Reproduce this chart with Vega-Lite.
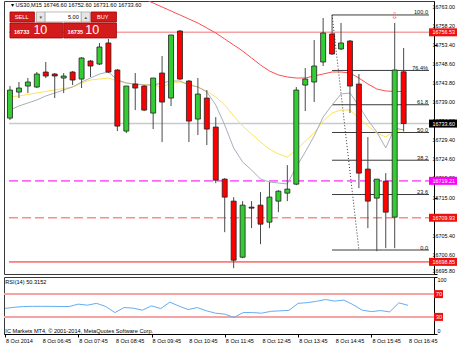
{
"$schema": "https://vega.github.io/schema/vega-lite/v6.json",
"padding": {"left": 2, "top": 0, "right": 0, "bottom": 0},
"autosize": {"type": "pad"},
"background": "white",
"spacing": 0,
"config": {
 "view": {"stroke": "#3a3a3a", "strokeWidth": 1},
 "axis": {"labelFont": "Liberation Sans", "labelFontSize": 5.5, "labelColor": "#000", "tickColor": "#000", "domainColor": "#000", "tickSize": 3, "labelPadding": 1, "grid": false}
},
"datasets": {
 "one": [{}],
 "candles": [
{"t":"2014-10-08T05:45:00Z","o":16734.98,"h":16743.03,"l":16734.48,"c":16742.02,"rsi":45.0,"fast":16737.01,"mid":16740.28,"slow":null},
{"t":"2014-10-08T06:00:00Z","o":16741.52,"h":16744.04,"l":16740.01,"c":16742.53,"rsi":46.8,"fast":16738.02,"mid":16740.53,"slow":null},
{"t":"2014-10-08T06:15:00Z","o":16743.03,"h":16745.04,"l":16741.27,"c":16744.04,"rsi":48.2,"fast":16738.77,"mid":16740.91,"slow":null},
{"t":"2014-10-08T06:30:00Z","o":16742.78,"h":16746.55,"l":16742.53,"c":16746.05,"rsi":48.5,"fast":16739.53,"mid":16741.28,"slow":null},
{"t":"2014-10-08T06:45:00Z","o":16746.55,"h":16749.07,"l":16745.04,"c":16745.55,"rsi":48.5,"fast":16740.53,"mid":16741.66,"slow":null},
{"t":"2014-10-08T07:00:00Z","o":16746.05,"h":16746.30,"l":16740.01,"c":16745.55,"rsi":48.5,"fast":16741.28,"mid":16742.04,"slow":null},
{"t":"2014-10-08T07:15:00Z","o":16745.04,"h":16746.30,"l":16741.27,"c":16745.55,"rsi":48.3,"fast":16742.04,"mid":16742.42,"slow":null},
{"t":"2014-10-08T07:30:00Z","o":16746.55,"h":16746.80,"l":16743.28,"c":16744.54,"rsi":48.2,"fast":16742.79,"mid":16742.79,"slow":null},
{"t":"2014-10-08T07:45:00Z","o":16744.79,"h":16750.32,"l":16742.53,"c":16750.07,"rsi":52.4,"fast":16744.05,"mid":16743.80,"slow":null},
{"t":"2014-10-08T08:00:00Z","o":16749.32,"h":16749.57,"l":16745.30,"c":16748.06,"rsi":50.6,"fast":16745.05,"mid":16744.55,"slow":null},
{"t":"2014-10-08T08:15:00Z","o":16748.56,"h":16753.85,"l":16748.31,"c":16752.84,"rsi":53.8,"fast":16746.06,"mid":16744.80,"slow":null},
{"t":"2014-10-08T08:30:00Z","o":16753.85,"h":16754.85,"l":16746.30,"c":16746.55,"rsi":48.2,"fast":16746.56,"mid":16745.05,"slow":null},
{"t":"2014-10-08T08:45:00Z","o":16747.06,"h":16747.31,"l":16731.71,"c":16732.97,"rsi":37.6,"fast":16744.55,"mid":16744.30,"slow":null},
{"t":"2014-10-08T09:00:00Z","o":16731.71,"h":16743.03,"l":16731.21,"c":16743.03,"rsi":46.4,"fast":16743.80,"mid":16743.80,"slow":null},
{"t":"2014-10-08T09:15:00Z","o":16743.53,"h":16746.30,"l":16736.99,"c":16742.53,"rsi":45.3,"fast":16743.55,"mid":16743.55,"slow":16765.91},
{"t":"2014-10-08T09:30:00Z","o":16743.03,"h":16743.28,"l":16736.74,"c":16736.99,"rsi":41.8,"fast":16743.29,"mid":16743.42,"slow":16764.91},
{"t":"2014-10-08T09:45:00Z","o":16736.24,"h":16745.04,"l":16732.22,"c":16745.04,"rsi":49.4,"fast":16743.29,"mid":16743.29,"slow":16763.90},
{"t":"2014-10-08T10:00:00Z","o":16746.30,"h":16750.58,"l":16728.95,"c":16739.01,"rsi":44.6,"fast":16743.80,"mid":16742.79,"slow":16762.90},
{"t":"2014-10-08T10:15:00Z","o":16740.01,"h":16755.86,"l":16738.00,"c":16755.86,"rsi":55.9,"fast":16744.30,"mid":16743.80,"slow":16761.89},
{"t":"2014-10-08T10:30:00Z","o":16756.86,"h":16757.12,"l":16744.54,"c":16744.79,"rsi":48.9,"fast":16744.30,"mid":16744.05,"slow":16760.89},
{"t":"2014-10-08T10:45:00Z","o":16744.29,"h":16744.54,"l":16728.95,"c":16734.23,"rsi":42.9,"fast":16743.29,"mid":16743.55,"slow":16759.88},
{"t":"2014-10-08T11:00:00Z","o":16734.73,"h":16745.04,"l":16730.71,"c":16741.02,"rsi":46.4,"fast":16742.79,"mid":16742.79,"slow":16758.87},
{"t":"2014-10-08T11:15:00Z","o":16740.01,"h":16742.02,"l":16728.19,"c":16732.22,"rsi":40.6,"fast":16741.54,"mid":16741.79,"slow":16757.62},
{"t":"2014-10-08T11:30:00Z","o":16732.72,"h":16735.23,"l":16718.63,"c":16719.38,"rsi":36.5,"fast":16738.27,"mid":16740.28,"slow":16756.36},
{"t":"2014-10-08T11:45:00Z","o":16719.64,"h":16719.89,"l":16706.31,"c":16715.12,"rsi":34.8,"fast":16733.24,"mid":16738.27,"slow":16754.86},
{"t":"2014-10-08T12:00:00Z","o":16714.11,"h":16715.12,"l":16697.26,"c":16699.27,"rsi":29.1,"fast":16727.47,"mid":16735.51,"slow":16753.35},
{"t":"2014-10-08T12:15:00Z","o":16700.02,"h":16714.11,"l":16699.77,"c":16713.10,"rsi":37.6,"fast":16723.95,"mid":16732.99,"slow":16751.84},
{"t":"2014-10-08T12:30:00Z","o":16712.60,"h":16714.11,"l":16707.32,"c":16712.35,"rsi":37.6,"fast":16721.93,"mid":16730.98,"slow":16750.08},
{"t":"2014-10-08T12:45:00Z","o":16713.10,"h":16716.37,"l":16703.29,"c":16708.32,"rsi":36.5,"fast":16719.67,"mid":16728.97,"slow":16748.32},
{"t":"2014-10-08T13:00:00Z","o":16708.83,"h":16718.88,"l":16707.32,"c":16715.12,"rsi":39.7,"fast":16718.92,"mid":16727.21,"slow":16746.81},
{"t":"2014-10-08T13:15:00Z","o":16714.11,"h":16716.87,"l":16711.34,"c":16716.62,"rsi":40.6,"fast":16718.67,"mid":16725.96,"slow":16745.81},
{"t":"2014-10-08T13:30:00Z","o":16716.12,"h":16723.16,"l":16714.11,"c":16717.13,"rsi":41.5,"fast":16718.42,"mid":16725.20,"slow":16745.31},
{"t":"2014-10-08T13:45:00Z","o":16718.38,"h":16742.78,"l":16718.13,"c":16742.02,"rsi":53.8,"fast":16722.69,"mid":16726.96,"slow":16745.05},
{"t":"2014-10-08T14:00:00Z","o":16743.28,"h":16747.56,"l":16736.74,"c":16744.79,"rsi":55.0,"fast":16726.46,"mid":16729.22,"slow":16745.05},
{"t":"2014-10-08T14:15:00Z","o":16744.04,"h":16754.60,"l":16739.01,"c":16748.06,"rsi":57.3,"fast":16730.48,"mid":16731.23,"slow":16745.56},
{"t":"2014-10-08T14:30:00Z","o":16749.07,"h":16760.13,"l":16748.06,"c":16756.36,"rsi":60.5,"fast":16735.25,"mid":16734.25,"slow":16746.06},
{"t":"2014-10-08T14:45:00Z","o":16756.11,"h":16760.89,"l":16750.83,"c":16751.08,"rsi":57.7,"fast":16738.27,"mid":16736.26,"slow":16746.56},
{"t":"2014-10-08T15:00:00Z","o":16752.34,"h":16758.88,"l":16752.09,"c":16753.85,"rsi":59.5,"fast":16741.03,"mid":16737.01,"slow":16746.56},
{"t":"2014-10-08T15:15:00Z","o":16754.35,"h":16754.60,"l":16736.24,"c":16743.03,"rsi":51.5,"fast":16741.28,"mid":16737.01,"slow":16746.31},
{"t":"2014-10-08T15:30:00Z","o":16743.53,"h":16746.05,"l":16717.38,"c":16721.15,"rsi":41.8,"fast":16738.02,"mid":16735.00,"slow":16745.05},
{"t":"2014-10-08T15:45:00Z","o":16722.16,"h":16730.20,"l":16707.32,"c":16714.11,"rsi":39.3,"fast":16734.50,"mid":16732.99,"slow":16743.55},
{"t":"2014-10-08T16:00:00Z","o":16714.86,"h":16719.64,"l":16701.53,"c":16719.64,"rsi":41.1,"fast":16731.49,"mid":16731.23,"slow":16742.29},
{"t":"2014-10-08T16:15:00Z","o":16719.13,"h":16721.15,"l":16702.29,"c":16711.34,"rsi":38.8,"fast":16727.47,"mid":16730.23,"slow":16741.79},
{"t":"2014-10-08T16:30:00Z","o":16710.09,"h":16758.88,"l":16702.29,"c":16747.06,"rsi":54.7,"fast":16732.49,"mid":16731.74,"slow":16741.67},
{"t":"2014-10-08T16:45:00Z","o":16746.60,"h":16752.60,"l":16731.60,"c":16733.60,"rsi":50.32,"fast":16731.99,"mid":16732.24,"slow":16741.67}
 ],
 "levels": [
  {"name": "R", "price": 16756.53},
  {"name": "bid", "price": 16733.60},
  {"name": "P", "price": 16719.21},
  {"name": "S1", "price": 16709.93},
  {"name": "S2", "price": 16698.85}
 ],
 "fib": [
  {"label": "100.0", "price": 16760.89},
  {"label": "76.4%", "price": 16746.95},
  {"label": "61.8", "price": 16738.33},
  {"label": "50.0", "price": 16731.36},
  {"label": "38.2", "price": 16724.39},
  {"label": "23.6", "price": 16715.77},
  {"label": "0.0", "price": 16701.83}
 ],
 "fibline": [
  {"t": "2014-10-08T14:45:00Z", "price": 16760.89},
  {"t": "2014-10-08T15:30:00Z", "price": 16701.83}
 ],
 "fractals": [
  {"t": "2014-10-08T16:30:00Z", "price": 16760.6}
 ],
 "yticks": [
  {"p": 16763.0}, {"p": 16758.2}, {"p": 16753.4}, {"p": 16748.6}, {"p": 16743.8}, {"p": 16739.0}, {"p": 16734.2}, {"p": 16729.4},
  {"p": 16724.6}, {"p": 16719.8}, {"p": 16715.0}, {"p": 16710.2}, {"p": 16705.4}, {"p": 16700.6}, {"p": 16695.8}
 ],
 "xticks": [
  {"t": "2014-10-08T05:45:00Z", "label": "8 Oct 2014"},
  {"t": "2014-10-08T06:45:00Z", "label": "8 Oct 06:45"},
  {"t": "2014-10-08T07:45:00Z", "label": "8 Oct 07:45"},
  {"t": "2014-10-08T08:45:00Z", "label": "8 Oct 08:45"},
  {"t": "2014-10-08T09:45:00Z", "label": "8 Oct 09:45"},
  {"t": "2014-10-08T10:45:00Z", "label": "8 Oct 10:45"},
  {"t": "2014-10-08T11:45:00Z", "label": "8 Oct 11:45"},
  {"t": "2014-10-08T12:45:00Z", "label": "8 Oct 12:45"},
  {"t": "2014-10-08T13:45:00Z", "label": "8 Oct 13:45"},
  {"t": "2014-10-08T14:45:00Z", "label": "8 Oct 14:45"},
  {"t": "2014-10-08T15:45:00Z", "label": "8 Oct 15:45"},
  {"t": "2014-10-08T16:45:00Z", "label": "8 Oct 16:45"}
 ],
 "rsiTicks": [{"v": 100, "label": "100"}, {"v": 0, "label": "0"}],
 "rsiLevels": [{"level": 70}, {"level": 30}]
},
"vconcat": [
 {
  "width": 430,
  "height": 273,
  "layer": [
   {
    "data": {"name": "levels"},
    "mark": {"type": "rule", "strokeWidth": 1.6},
    "encoding": {
     "x": {"datum": {"year":2014,"month":10,"date":8,"hours":5,"minutes":43,"seconds":20,"utc":true}, "type": "temporal", "scale": {"domain": [{"year":2014,"month":10,"date":8,"hours":5,"minutes":43,"seconds":20,"utc":true},{"year":2014,"month":10,"date":8,"hours":17,"minutes":27,"seconds":30,"utc":true}]}, "axis": null},
     "x2": {"datum": {"year":2014,"month":10,"date":8,"hours":17,"minutes":27,"seconds":30,"utc":true}},
     "y": {"field": "price", "type": "quantitative", "scale": {"domain": [16695.8, 16764.4], "zero": false, "nice": false},
       "axis": {"orient": "right", "title": null, "labels": false, "values": [16763.0,16758.2,16753.4,16748.6,16743.8,16739.0,16734.2,16729.4,16724.6,16719.8,16715.0,16710.2,16705.4,16700.6,16695.8]}},
     "stroke": {"field": "name", "type": "nominal", "scale": {"domain": ["R","bid","P","S1","S2"], "range": ["#f6a3a3","#c5cbd3","#ff66ff","#ff8a8a","#ff7a7a"]}, "legend": null},
     "strokeDash": {"field": "name", "type": "nominal", "scale": {"domain": ["R","bid","P","S1","S2"], "range": [[1,0],[1,0],[9,4],[9,4],[1,0]]}, "legend": null}
    }
   },
   {
    "data": {"name": "yticks"},
    "transform": [{"filter": "datum.p > 16696"}],
    "mark": {"type": "text", "font": "Liberation Sans", "fontSize": 5.4, "color": "#000", "align": "left", "baseline": "middle", "dx": 3.5},
    "encoding": {
     "x": {"datum": {"year":2014,"month":10,"date":8,"hours":17,"minutes":27,"seconds":30,"utc":true}, "type": "temporal", "axis": null},
     "y": {"field": "p", "type": "quantitative"},
     "text": {"field": "p", "type": "quantitative", "format": ".2f"}
    }
   },
   {
    "data": {"name": "yticks"},
    "transform": [{"filter": "datum.p < 16696"}],
    "mark": {"type": "text", "font": "Liberation Sans", "fontSize": 5.4, "color": "#000", "align": "left", "baseline": "middle", "dx": 3.5, "dy": -2.6},
    "encoding": {
     "x": {"datum": {"year":2014,"month":10,"date":8,"hours":17,"minutes":27,"seconds":30,"utc":true}, "type": "temporal", "axis": null},
     "y": {"field": "p", "type": "quantitative"},
     "text": {"field": "p", "type": "quantitative", "format": ".2f"}
    }
   },
   {
    "data": {"name": "fib"},
    "mark": {"type": "rule", "color": "#3c3c3c", "strokeWidth": 1},
    "encoding": {
     "x": {"datum": {"year":2014,"month":10,"date":8,"hours":14,"minutes":45,"utc":true}, "type": "temporal", "axis": null},
     "x2": {"datum": {"year":2014,"month":10,"date":8,"hours":17,"minutes":27,"seconds":30,"utc":true}},
     "y": {"field": "price", "type": "quantitative"}
    }
   },
   {
    "data": {"name": "fib"},
    "mark": {"type": "text", "font": "Liberation Sans", "fontSize": 5.6, "color": "#111", "align": "right", "baseline": "bottom", "dx": -1, "dy": 0.5},
    "encoding": {
     "x": {"datum": {"year":2014,"month":10,"date":8,"hours":17,"minutes":27,"seconds":30,"utc":true}, "type": "temporal", "axis": null},
     "y": {"field": "price", "type": "quantitative"},
     "text": {"field": "label"}
    }
   },
   {
    "data": {"name": "fibline"},
    "mark": {"type": "line", "color": "#333", "strokeWidth": 1, "strokeDash": [1, 2]},
    "encoding": {
     "x": {"field": "t", "type": "temporal", "axis": null},
     "y": {"field": "price", "type": "quantitative"}
    }
   },
   {
    "data": {"name": "candles"},
    "mark": {"type": "line", "color": "#ff4d4d", "strokeWidth": 1, "clip": true},
    "encoding": {
     "x": {"field": "t", "type": "temporal", "axis": null},
     "y": {"field": "slow", "type": "quantitative"}
    }
   },
   {
    "data": {"name": "candles"},
    "mark": {"type": "line", "color": "#ffe35a", "strokeWidth": 1},
    "encoding": {
     "x": {"field": "t", "type": "temporal", "axis": null},
     "y": {"field": "mid", "type": "quantitative"}
    }
   },
   {
    "data": {"name": "candles"},
    "mark": {"type": "line", "color": "#a6afbc", "strokeWidth": 1},
    "encoding": {
     "x": {"field": "t", "type": "temporal", "axis": null},
     "y": {"field": "fast", "type": "quantitative"}
    }
   },
   {
    "data": {"name": "candles"},
    "mark": {"type": "rule", "color": "#4a4a4a", "strokeWidth": 1},
    "encoding": {
     "x": {"field": "t", "type": "temporal", "axis": null},
     "y": {"field": "l", "type": "quantitative"},
     "y2": {"field": "h"}
    }
   },
   {
    "data": {"name": "candles"},
    "mark": {"type": "bar", "size": 5, "stroke": "#222", "strokeWidth": 0.8},
    "encoding": {
     "x": {"field": "t", "type": "temporal", "axis": null},
     "y": {"field": "o", "type": "quantitative"},
     "y2": {"field": "c"},
     "fill": {"condition": {"test": "datum.c >= datum.o", "value": "#33cc33"}, "value": "#ff0000"}
    }
   },
   {
    "data": {"name": "fractals"},
    "mark": {"type": "text", "text": "⇩", "font": "DejaVu Sans", "fontSize": 9, "color": "#ff6464", "baseline": "middle", "align": "center"},
    "encoding": {
     "x": {"field": "t", "type": "temporal", "axis": null},
     "y": {"field": "price", "type": "quantitative"}
    }
   },
   {
    "data": {"name": "levels"},
    "mark": {"type": "rect", "x2Offset": 28, "yOffset": -4, "y2Offset": 4},
    "encoding": {
     "x": {"datum": {"year":2014,"month":10,"date":8,"hours":17,"minutes":27,"seconds":30,"utc":true}, "type": "temporal", "axis": null},
     "x2": {"datum": {"year":2014,"month":10,"date":8,"hours":17,"minutes":27,"seconds":30,"utc":true}},
     "y": {"field": "price", "type": "quantitative"},
     "y2": {"field": "price"},
     "fill": {"field": "name", "type": "nominal", "scale": {"domain": ["R","bid","P","S1","S2"], "range": ["#ee1111","#000000","#ff00ff","#ee1111","#ee1111"]}, "legend": null}
    }
   },
   {
    "data": {"name": "levels"},
    "mark": {"type": "text", "font": "Liberation Sans", "fontSize": 5.4, "color": "white", "align": "left", "baseline": "middle", "dx": 3.5},
    "encoding": {
     "x": {"datum": {"year":2014,"month":10,"date":8,"hours":17,"minutes":27,"seconds":30,"utc":true}, "type": "temporal", "axis": null},
     "y": {"field": "price", "type": "quantitative"},
     "text": {"field": "price", "type": "quantitative", "format": ".2f"}
    }
   },
   {
    "data": {"name": "one"},
    "mark": {"type": "text", "text": "▾ US30,M15  16746.60 16752.60 16731.60 16733.60", "font": "Liberation Sans", "fontSize": 5.6, "color": "#000", "align": "left", "baseline": "middle"},
    "encoding": {
     "x": {"datum": {"year":2014,"month":10,"date":8,"hours":5,"minutes":46,"seconds":36,"utc":true}, "type": "temporal", "axis": null},
     "y": {"datum": 16763.27, "type": "quantitative"}
    }
   },
   {
    "data": {"name": "one"},
    "mark": {"type": "rect", "fill": "#d31b1b", "stroke": "#9e0000", "strokeWidth": 0.8},
    "encoding": {
     "x": {"datum": {"year":2014,"month":10,"date":8,"hours":5,"minutes":45,"utc":true}, "type": "temporal", "axis": null},
     "x2": {"datum": {"year":2014,"month":10,"date":8,"hours":6,"minutes":25,"seconds":55,"utc":true}},
     "y": {"datum": 16761.64, "type": "quantitative"},
     "y2": {"datum": 16759.13}
    }
   },
   {
    "data": {"name": "one"},
    "mark": {"type": "rect", "fill": "#e6e6e6", "stroke": "#a8a8a8", "strokeWidth": 0.8},
    "encoding": {
     "x": {"datum": {"year":2014,"month":10,"date":8,"hours":6,"minutes":29,"seconds":11,"utc":true}, "type": "temporal", "axis": null},
     "x2": {"datum": {"year":2014,"month":10,"date":8,"hours":6,"minutes":43,"seconds":55,"utc":true}},
     "y": {"datum": 16761.64, "type": "quantitative"},
     "y2": {"datum": 16759.13}
    }
   },
   {
    "data": {"name": "one"},
    "mark": {"type": "rect", "fill": "#ffffff", "stroke": "#a8a8a8", "strokeWidth": 0.8},
    "encoding": {
     "x": {"datum": {"year":2014,"month":10,"date":8,"hours":6,"minutes":43,"seconds":55,"utc":true}, "type": "temporal", "axis": null},
     "x2": {"datum": {"year":2014,"month":10,"date":8,"hours":7,"minutes":44,"seconds":31,"utc":true}},
     "y": {"datum": 16761.64, "type": "quantitative"},
     "y2": {"datum": 16759.13}
    }
   },
   {
    "data": {"name": "one"},
    "mark": {"type": "rect", "fill": "#e6e6e6", "stroke": "#a8a8a8", "strokeWidth": 0.8},
    "encoding": {
     "x": {"datum": {"year":2014,"month":10,"date":8,"hours":7,"minutes":44,"seconds":31,"utc":true}, "type": "temporal", "axis": null},
     "x2": {"datum": {"year":2014,"month":10,"date":8,"hours":7,"minutes":59,"seconds":15,"utc":true}},
     "y": {"datum": 16761.64, "type": "quantitative"},
     "y2": {"datum": 16759.13}
    }
   },
   {
    "data": {"name": "one"},
    "mark": {"type": "rect", "fill": "#d31b1b", "stroke": "#9e0000", "strokeWidth": 0.8},
    "encoding": {
     "x": {"datum": {"year":2014,"month":10,"date":8,"hours":8,"minutes":0,"seconds":54,"utc":true}, "type": "temporal", "axis": null},
     "x2": {"datum": {"year":2014,"month":10,"date":8,"hours":8,"minutes":43,"seconds":28,"utc":true}},
     "y": {"datum": 16761.64, "type": "quantitative"},
     "y2": {"datum": 16759.13}
    }
   },
   {
    "data": {"name": "one"},
    "mark": {"type": "rect", "fill": "#d31b1b", "stroke": "#9e0000", "strokeWidth": 0.8},
    "encoding": {
     "x": {"datum": {"year":2014,"month":10,"date":8,"hours":5,"minutes":45,"utc":true}, "type": "temporal", "axis": null},
     "x2": {"datum": {"year":2014,"month":10,"date":8,"hours":7,"minutes":13,"seconds":24,"utc":true}},
     "y": {"datum": 16758.87, "type": "quantitative"},
     "y2": {"datum": 16755.11}
    }
   },
   {
    "data": {"name": "one"},
    "mark": {"type": "rect", "fill": "#d31b1b", "stroke": "#9e0000", "strokeWidth": 0.8},
    "encoding": {
     "x": {"datum": {"year":2014,"month":10,"date":8,"hours":7,"minutes":15,"seconds":2,"utc":true}, "type": "temporal", "axis": null},
     "x2": {"datum": {"year":2014,"month":10,"date":8,"hours":8,"minutes":43,"seconds":28,"utc":true}},
     "y": {"datum": 16758.87, "type": "quantitative"},
     "y2": {"datum": 16755.11}
    }
   },
   {
    "data": {"name": "one"},
    "mark": {"type": "text", "text": "SELL", "font": "Liberation Sans", "fontSize": 5.6, "color": "white", "align": "center", "baseline": "middle"},
    "encoding": {
     "x": {"datum": {"year":2014,"month":10,"date":8,"hours":6,"minutes":4,"seconds":37,"utc":true}, "type": "temporal", "axis": null},
     "y": {"datum": 16760.38, "type": "quantitative"}
    }
   },
   {
    "data": {"name": "one"},
    "mark": {"type": "text", "text": "BUY", "font": "Liberation Sans", "fontSize": 5.6, "color": "white", "align": "center", "baseline": "middle"},
    "encoding": {
     "x": {"datum": {"year":2014,"month":10,"date":8,"hours":8,"minutes":20,"seconds":32,"utc":true}, "type": "temporal", "axis": null},
     "y": {"datum": 16760.38, "type": "quantitative"}
    }
   },
   {
    "data": {"name": "one"},
    "mark": {"type": "text", "text": "5.00", "font": "Liberation Sans", "fontSize": 5.6, "color": "#000", "align": "right", "baseline": "middle"},
    "encoding": {
     "x": {"datum": {"year":2014,"month":10,"date":8,"hours":7,"minutes":40,"seconds":26,"utc":true}, "type": "temporal", "axis": null},
     "y": {"datum": 16760.38, "type": "quantitative"}
    }
   },
   {
    "data": {"name": "one"},
    "mark": {"type": "text", "text": "▾", "font": "DejaVu Sans", "fontSize": 5, "color": "#555", "align": "center", "baseline": "middle"},
    "encoding": {
     "x": {"datum": {"year":2014,"month":10,"date":8,"hours":6,"minutes":36,"seconds":32,"utc":true}, "type": "temporal", "axis": null},
     "y": {"datum": 16760.38, "type": "quantitative"}
    }
   },
   {
    "data": {"name": "one"},
    "mark": {"type": "text", "text": "▴", "font": "DejaVu Sans", "fontSize": 5, "color": "#555", "align": "center", "baseline": "middle"},
    "encoding": {
     "x": {"datum": {"year":2014,"month":10,"date":8,"hours":7,"minutes":51,"seconds":53,"utc":true}, "type": "temporal", "axis": null},
     "y": {"datum": 16760.38, "type": "quantitative"}
    }
   },
   {
    "data": {"name": "one"},
    "mark": {"type": "text", "text": "16733", "font": "Liberation Sans", "fontSize": 5.6, "fontWeight": "bold", "color": "white", "align": "left", "baseline": "alphabetic"},
    "encoding": {
     "x": {"datum": {"year":2014,"month":10,"date":8,"hours":5,"minutes":51,"seconds":31,"utc":true}, "type": "temporal", "axis": null},
     "y": {"datum": 16755.99, "type": "quantitative"}
    }
   },
   {
    "data": {"name": "one"},
    "mark": {"type": "text", "text": "10", "font": "Liberation Sans", "fontSize": 12.5, "color": "white", "align": "left", "baseline": "alphabetic"},
    "encoding": {
     "x": {"datum": {"year":2014,"month":10,"date":8,"hours":6,"minutes":24,"seconds":16,"utc":true}, "type": "temporal", "axis": null},
     "y": {"datum": 16755.99, "type": "quantitative"}
    }
   },
   {
    "data": {"name": "one"},
    "mark": {"type": "text", "text": "16735", "font": "Liberation Sans", "fontSize": 5.6, "fontWeight": "bold", "color": "white", "align": "left", "baseline": "alphabetic"},
    "encoding": {
     "x": {"datum": {"year":2014,"month":10,"date":8,"hours":7,"minutes":21,"seconds":36,"utc":true}, "type": "temporal", "axis": null},
     "y": {"datum": 16755.99, "type": "quantitative"}
    }
   },
   {
    "data": {"name": "one"},
    "mark": {"type": "text", "text": "10", "font": "Liberation Sans", "fontSize": 12.5, "color": "white", "align": "left", "baseline": "alphabetic"},
    "encoding": {
     "x": {"datum": {"year":2014,"month":10,"date":8,"hours":7,"minutes":51,"seconds":4,"utc":true}, "type": "temporal", "axis": null},
     "y": {"datum": 16755.99, "type": "quantitative"}
    }
   }
  ]
 },
 {
  "width": 430,
  "height": 57,
  "layer": [
   {
    "data": {"name": "rsiLevels"},
    "mark": {"type": "rule", "color": "#f6a3a3", "strokeWidth": 2},
    "encoding": {
     "y": {"field": "level", "type": "quantitative", "scale": {"domain": [0, 100], "nice": false, "zero": false},
       "axis": {"orient": "right", "title": null, "labels": false, "values": [0, 100]}}
    }
   },
   {
    "data": {"name": "candles"},
    "mark": {"type": "line", "color": "#63aef2", "strokeWidth": 1},
    "encoding": {
     "x": {"field": "t", "type": "temporal",
       "scale": {"domain": [{"year":2014,"month":10,"date":8,"hours":5,"minutes":43,"seconds":20,"utc":true},{"year":2014,"month":10,"date":8,"hours":17,"minutes":27,"seconds":30,"utc":true}]},
       "axis": {"title": null, "labels": false,
         "values": [
          {"year":2014,"month":10,"date":8,"hours":5,"minutes":45,"utc":true},
          {"year":2014,"month":10,"date":8,"hours":6,"minutes":45,"utc":true},
          {"year":2014,"month":10,"date":8,"hours":7,"minutes":45,"utc":true},
          {"year":2014,"month":10,"date":8,"hours":8,"minutes":45,"utc":true},
          {"year":2014,"month":10,"date":8,"hours":9,"minutes":45,"utc":true},
          {"year":2014,"month":10,"date":8,"hours":10,"minutes":45,"utc":true},
          {"year":2014,"month":10,"date":8,"hours":11,"minutes":45,"utc":true},
          {"year":2014,"month":10,"date":8,"hours":12,"minutes":45,"utc":true},
          {"year":2014,"month":10,"date":8,"hours":13,"minutes":45,"utc":true},
          {"year":2014,"month":10,"date":8,"hours":14,"minutes":45,"utc":true},
          {"year":2014,"month":10,"date":8,"hours":15,"minutes":45,"utc":true},
          {"year":2014,"month":10,"date":8,"hours":16,"minutes":45,"utc":true}
         ]}},
     "y": {"field": "rsi", "type": "quantitative"}
    }
   },
   {
    "data": {"name": "xticks"},
    "mark": {"type": "text", "font": "Liberation Sans", "fontSize": 5.5, "color": "#000", "align": "left", "baseline": "middle", "dx": 1, "dy": 6.5},
    "encoding": {
     "x": {"field": "t", "type": "temporal"},
     "y": {"datum": 0, "type": "quantitative"},
     "text": {"field": "label"}
    }
   },
   {
    "data": {"name": "rsiTicks"},
    "transform": [{"filter": "datum.v > 50"}],
    "mark": {"type": "text", "font": "Liberation Sans", "fontSize": 5.4, "color": "#000", "align": "left", "baseline": "middle", "dx": 3.5, "dy": 2.6},
    "encoding": {
     "x": {"datum": {"year":2014,"month":10,"date":8,"hours":17,"minutes":27,"seconds":30,"utc":true}, "type": "temporal"},
     "y": {"field": "v", "type": "quantitative"},
     "text": {"field": "label"}
    }
   },
   {
    "data": {"name": "rsiTicks"},
    "transform": [{"filter": "datum.v < 50"}],
    "mark": {"type": "text", "font": "Liberation Sans", "fontSize": 5.4, "color": "#000", "align": "left", "baseline": "middle", "dx": 3.5, "dy": -2.6},
    "encoding": {
     "x": {"datum": {"year":2014,"month":10,"date":8,"hours":17,"minutes":27,"seconds":30,"utc":true}, "type": "temporal"},
     "y": {"field": "v", "type": "quantitative"},
     "text": {"field": "label"}
    }
   },
   {
    "data": {"name": "rsiLevels"},
    "mark": {"type": "rect", "fill": "#ee1111", "x2Offset": 9, "yOffset": -4, "y2Offset": 4},
    "encoding": {
     "x": {"datum": {"year":2014,"month":10,"date":8,"hours":17,"minutes":27,"seconds":30,"utc":true}, "type": "temporal"},
     "x2": {"datum": {"year":2014,"month":10,"date":8,"hours":17,"minutes":27,"seconds":30,"utc":true}},
     "y": {"field": "level", "type": "quantitative"},
     "y2": {"field": "level"}
    }
   },
   {
    "data": {"name": "rsiLevels"},
    "mark": {"type": "text", "font": "Liberation Sans", "fontSize": 5.4, "color": "white", "align": "left", "baseline": "middle", "dx": 2},
    "encoding": {
     "x": {"datum": {"year":2014,"month":10,"date":8,"hours":17,"minutes":27,"seconds":30,"utc":true}, "type": "temporal"},
     "y": {"field": "level", "type": "quantitative"},
     "text": {"field": "level", "type": "quantitative", "format": "d"}
    }
   },
   {
    "data": {"name": "one"},
    "mark": {"type": "text", "text": "RSI(14) 50.3152", "font": "Liberation Sans", "fontSize": 5.6, "color": "#000", "align": "left", "baseline": "middle", "dy": 5},
    "encoding": {
     "x": {"datum": {"year":2014,"month":10,"date":8,"hours":5,"minutes":45,"seconds":30,"utc":true}, "type": "temporal"},
     "y": {"datum": 100, "type": "quantitative"}
    }
   },
   {
    "data": {"name": "one"},
    "mark": {"type": "text", "text": "IC Markets MT4, © 2001-2014, MetaQuotes Software Corp.", "font": "Liberation Sans", "fontSize": 5.6, "color": "#000", "align": "left", "baseline": "middle", "dy": -3},
    "encoding": {
     "x": {"datum": {"year":2014,"month":10,"date":8,"hours":5,"minutes":45,"seconds":30,"utc":true}, "type": "temporal"},
     "y": {"datum": 0, "type": "quantitative"}
    }
   }
  ]
 }
]
}
